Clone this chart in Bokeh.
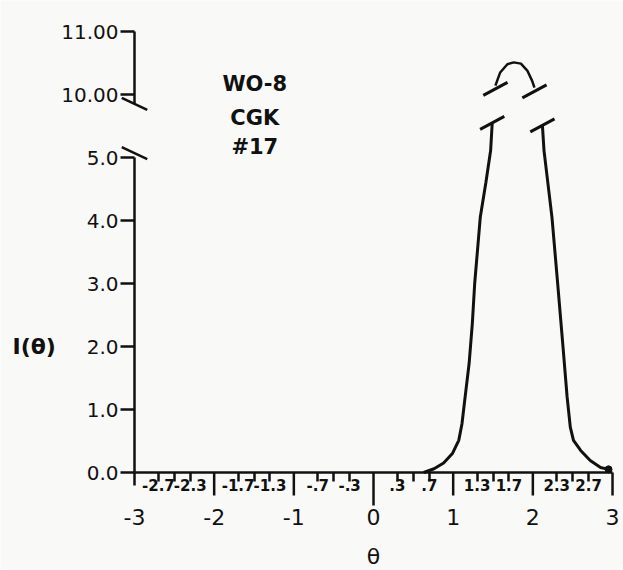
from bokeh.plotting import figure
from bokeh.models import FixedTicker, LinearAxis, Range1d, AllLabels
from bokeh.core.properties import value
from bokeh.embed import file_html
from bokeh.resources import INLINE

# ---- data ----
left_theta = [0.63, 0.76, 0.88, 0.99, 1.07, 1.11, 1.15, 1.20, 1.24, 1.27, 1.34, 1.41, 1.47, 1.49]
left_I = [0.00, 0.06, 0.15, 0.30, 0.51, 0.77, 1.20, 1.73, 2.36, 3.00, 4.05, 4.60, 5.11, 5.55]
right_theta = [2.12, 2.14, 2.24, 2.31, 2.38, 2.43, 2.47, 2.51, 2.60, 2.72, 2.85, 2.95]
right_I = [5.51, 5.11, 4.05, 3.02, 1.97, 1.20, 0.72, 0.51, 0.35, 0.19, 0.08, 0.05]
peak_theta = [1.53, 1.59, 1.68, 1.76, 1.85, 1.93, 1.99, 2.02]
peak_I = [10.14, 10.35, 10.48, 10.51, 10.49, 10.38, 10.22, 10.11]

y_lower_ticks = [0, 1, 2, 3, 4, 5]
y_lower_labels = ["0.0", "1.0", "2.0", "3.0", "4.0", "5.0"]
y_upper_ticks = [10, 11]
y_upper_labels = ["10.00", "11.00"]
x_major = [-3, -2, -1, 0, 1, 2, 3]
x_major_labels = ["-3", "-2", "-1", "0", "1", "2", "3"]
x_minor = [-2.7, -2.5, -2.3, -1.7, -1.5, -1.3, -0.7, -0.5, -0.3,
           0.3, 0.5, 0.7, 1.3, 1.5, 1.7, 2.3, 2.5, 2.7]
x_minor_labels = ["-2.7", "", "-2.3", "-1.7", "", "-1.3", "-.7", "", "-.3",
                  ".3", "", ".7", "1.3", "", "1.7", "2.3", "", "2.7"]
annotation_lines = ["WO-8", "CGK", "#17"]
x_title = "θ"
y_title = "I(θ)"

# broken y scale: values >= 10 are shifted down onto the drawing
GAP_SHIFT = 4.0
def disp(v):
    return v - GAP_SHIFT if v >= 10 else v

FONT = "DejaVu Sans"
INK = "#111111"
PAPER = "#f9f9f8"

W, H = 623, 570
PXX = 79.67            # pixels per theta unit
PXY = 63.0             # pixels per I unit
X0_PX, Y0_PX = 134, 472  # where (theta=-3, I=0) sits on the page
x_lo = -3 - X0_PX / PXX
x_hi = x_lo + W / PXX
y_hi = Y0_PX / PXY
y_lo = y_hi - H / PXY

p = figure(width=W, height=H, x_range=Range1d(x_lo, x_hi), y_range=Range1d(y_lo, y_hi),
           output_backend="svg", toolbar_location=None,
           x_axis_location=None, y_axis_location=None,
           min_border_left=0, min_border_right=0, min_border_top=0, min_border_bottom=0)
p.grid.visible = False
p.outline_line_color = None
p.background_fill_color = PAPER
p.border_fill_color = PAPER

def ylab_axis(ticks, labels, bounds):
    tk = [float(disp(v)) for v in ticks]
    return LinearAxis(ticker=FixedTicker(ticks=tk, minor_ticks=[]), fixed_location=-3,
                      bounds=bounds,
                      major_label_overrides={t: s for t, s in zip(tk, labels)},
                      axis_line_width=2.5, axis_line_color=INK,
                      major_tick_out=14, major_tick_in=0,
                      major_tick_line_width=2.5, major_tick_line_color=INK,
                      minor_tick_out=0, minor_tick_in=0,
                      major_label_text_font=FONT, major_label_text_font_size="20px",
                      major_label_text_color=INK, major_label_standoff=2)

low_top, up_bottom = 5.0, 5.85
p.add_layout(ylab_axis(y_lower_ticks, y_lower_labels, (0, low_top)), "left")
p.add_layout(ylab_axis(y_upper_ticks, y_upper_labels, (up_bottom, disp(11))), "left")

# x axis: line, short fractional ticks, integer labels
xint = LinearAxis(ticker=FixedTicker(ticks=x_major, minor_ticks=x_minor), fixed_location=0,
                  bounds=(-3, 3),
                  major_label_overrides={t: s for t, s in zip(x_major, x_major_labels)},
                  axis_line_width=2.5, axis_line_color=INK,
                  major_tick_out=0, major_tick_in=0, major_tick_line_color=None,
                  minor_tick_out=9, minor_tick_in=0, minor_tick_line_width=2.5,
                  minor_tick_line_color=INK,
                  major_label_text_font=FONT, major_label_text_font_size="22px",
                  major_label_text_color=INK, major_label_standoff=27,
                  major_label_policy=AllLabels())
p.add_layout(xint, "below")

# x axis: fractional labels
xfrac = LinearAxis(ticker=FixedTicker(ticks=x_minor, minor_ticks=[]), fixed_location=0,
                   major_label_overrides={t: s for t, s in zip(x_minor, x_minor_labels)},
                   axis_line_color=None, major_tick_out=6, major_tick_in=0,
                   major_tick_line_color=None, minor_tick_out=0, minor_tick_in=0,
                   major_label_text_font=FONT, major_label_text_font_size="15px",
                   major_label_text_font_style="bold", major_label_text_color=INK,
                   major_label_standoff=0, major_label_policy=AllLabels())
p.add_layout(xfrac, "below")

# long integer ticks hanging from the x axis
tick_px = [13 if t == -3 else 33 if t == 0 else 23 for t in x_major]
p.segment(x0=x_major, y0=[0] * len(x_major), x1=x_major, y1=[-L / PXY for L in tick_px],
          line_width=2.5, line_color=INK)

# break marks on the y axis
sdx, sdy = 0.16, 0.095
brk_y = [low_top + 0.07, up_bottom]
p.segment(x0=[-3 - sdx] * 2, y0=[b + sdy for b in brk_y],
          x1=[-3 + sdx] * 2, y1=[b - sdy for b in brk_y], line_width=2.5, line_color=INK)

# curve
p.line(left_theta, left_I, line_width=3, line_color=INK)
p.line(right_theta, right_I, line_width=3, line_color=INK)
p.line(peak_theta, [disp(v) for v in peak_I], line_width=2.5, line_color=INK)
p.scatter([right_theta[-1]], [right_I[-1]], size=7, color=INK)

# break marks on the curve (at the branch ends)
ends = [(left_theta[-1], left_I[-1]), (right_theta[0], right_I[0]),
        (peak_theta[0], disp(peak_I[0]) - 0.05), (peak_theta[-1], disp(peak_I[-1]) - 0.06)]
cdx, cdy = 0.152, 0.103
p.segment(x0=[e[0] - cdx for e in ends], y0=[e[1] - cdy for e in ends],
          x1=[e[0] + cdx for e in ends], y1=[e[1] + cdy for e in ends],
          line_width=3, line_color=INK)

# sample annotation
p.text(x=[-1.49] * 3, y=[6.16, 5.63, 5.17], text=annotation_lines,
       text_font=value(FONT), text_font_size="21px", text_font_style="bold",
       text_align="center", text_baseline="middle", text_color=INK)

# axis titles
p.text(x=[0.0], y=[-84 / PXY], text=[x_title], text_font=value(FONT), text_font_size="22px",
       text_align="center", text_baseline="middle", text_color=INK)
p.text(x=[-3 - 122 / PXX], y=[2.0], text=[y_title], text_font=value(FONT), text_font_size="22px",
       text_font_style="bold", text_align="left", text_baseline="middle", text_color=INK)

open("out.html", "w").write(file_html(p, INLINE))
